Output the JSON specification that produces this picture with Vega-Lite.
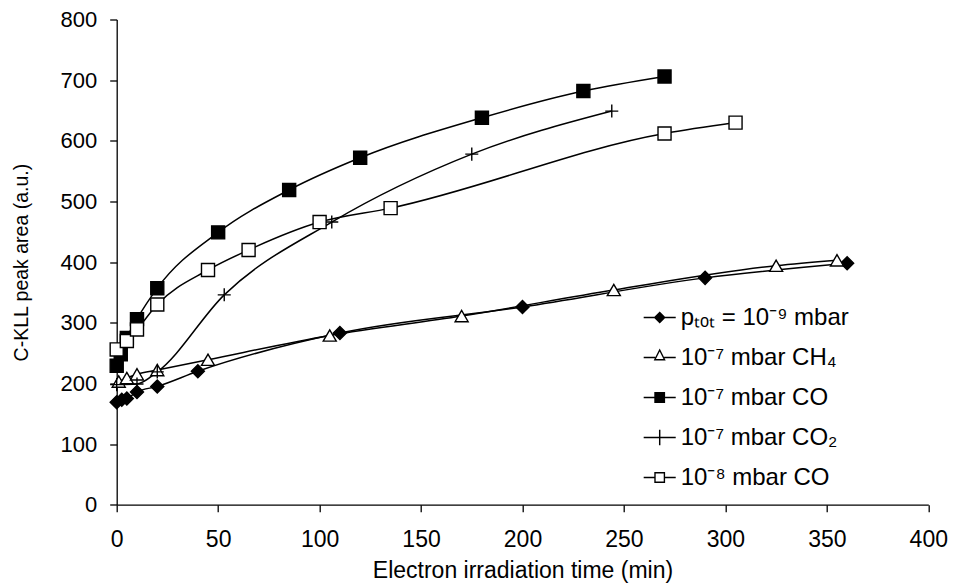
{
  "$schema": "https://vega.github.io/schema/vega-lite/v6.json",
  "autosize": "none",
  "width": 811.6,
  "height": 485.2,
  "padding": {"left": 116.7, "top": 19.5, "right": 25.7, "bottom": 82.3},
  "background": "white",
  "config": {
    "view": {"stroke": null},
    "font": "Liberation Sans",
    "axis": {"labelFont": "Liberation Sans", "titleFont": "Liberation Sans", "titleFontWeight": "normal", "labelColor": "black", "titleColor": "black", "tickColor": "black", "domainColor": "black", "grid": false, "tickSize": 7, "domainWidth": 1.3, "tickWidth": 1.3}
  },
  "data": {"values": [
    {"s": "pₜₒₜ = 10⁻⁹ mbar", "t": 0, "a": 169},
    {"s": "pₜₒₜ = 10⁻⁹ mbar", "t": 2.5, "a": 173},
    {"s": "pₜₒₜ = 10⁻⁹ mbar", "t": 5, "a": 175},
    {"s": "pₜₒₜ = 10⁻⁹ mbar", "t": 10, "a": 186},
    {"s": "pₜₒₜ = 10⁻⁹ mbar", "t": 20, "a": 195},
    {"s": "pₜₒₜ = 10⁻⁹ mbar", "t": 40, "a": 220},
    {"s": "pₜₒₜ = 10⁻⁹ mbar", "t": 110, "a": 283},
    {"s": "pₜₒₜ = 10⁻⁹ mbar", "t": 200, "a": 326},
    {"s": "pₜₒₜ = 10⁻⁹ mbar", "t": 290, "a": 374},
    {"s": "pₜₒₜ = 10⁻⁹ mbar", "t": 360, "a": 398},
    {"s": "10⁻⁷ mbar CH₄", "t": 1, "a": 203},
    {"s": "10⁻⁷ mbar CH₄", "t": 5, "a": 209},
    {"s": "10⁻⁷ mbar CH₄", "t": 10, "a": 215},
    {"s": "10⁻⁷ mbar CH₄", "t": 20, "a": 222},
    {"s": "10⁻⁷ mbar CH₄", "t": 45, "a": 239},
    {"s": "10⁻⁷ mbar CH₄", "t": 105, "a": 279},
    {"s": "10⁻⁷ mbar CH₄", "t": 170, "a": 311},
    {"s": "10⁻⁷ mbar CH₄", "t": 245, "a": 354},
    {"s": "10⁻⁷ mbar CH₄", "t": 325, "a": 394},
    {"s": "10⁻⁷ mbar CH₄", "t": 355, "a": 403},
    {"s": "10⁻⁷ mbar CO", "t": 0, "a": 229},
    {"s": "10⁻⁷ mbar CO", "t": 2, "a": 248},
    {"s": "10⁻⁷ mbar CO", "t": 5, "a": 275},
    {"s": "10⁻⁷ mbar CO", "t": 10, "a": 306},
    {"s": "10⁻⁷ mbar CO", "t": 20, "a": 357},
    {"s": "10⁻⁷ mbar CO", "t": 50, "a": 449},
    {"s": "10⁻⁷ mbar CO", "t": 85, "a": 519},
    {"s": "10⁻⁷ mbar CO", "t": 120, "a": 572},
    {"s": "10⁻⁷ mbar CO", "t": 180, "a": 638},
    {"s": "10⁻⁷ mbar CO", "t": 230, "a": 682},
    {"s": "10⁻⁷ mbar CO", "t": 270, "a": 706},
    {"s": "10⁻⁷ mbar CO₂", "t": 0, "a": 198},
    {"s": "10⁻⁷ mbar CO₂", "t": 10, "a": 199},
    {"s": "10⁻⁷ mbar CO₂", "t": 20, "a": 219},
    {"s": "10⁻⁷ mbar CO₂", "t": 53, "a": 346},
    {"s": "10⁻⁷ mbar CO₂", "t": 106, "a": 466},
    {"s": "10⁻⁷ mbar CO₂", "t": 175, "a": 578},
    {"s": "10⁻⁷ mbar CO₂", "t": 244, "a": 649},
    {"s": "10⁻⁸ mbar CO", "t": 0, "a": 256},
    {"s": "10⁻⁸ mbar CO", "t": 5, "a": 270},
    {"s": "10⁻⁸ mbar CO", "t": 10, "a": 289},
    {"s": "10⁻⁸ mbar CO", "t": 20, "a": 330},
    {"s": "10⁻⁸ mbar CO", "t": 45, "a": 387},
    {"s": "10⁻⁸ mbar CO", "t": 65, "a": 420},
    {"s": "10⁻⁸ mbar CO", "t": 100, "a": 466},
    {"s": "10⁻⁸ mbar CO", "t": 135, "a": 489},
    {"s": "10⁻⁸ mbar CO", "t": 270, "a": 612},
    {"s": "10⁻⁸ mbar CO", "t": 305, "a": 630}
  ]},
  "encoding": {
    "x": {"field": "t", "type": "quantitative", "scale": {"domain": [0, 400], "nice": false}, "axis": {"title": "Electron irradiation time (min)", "values": [0, 50, 100, 150, 200, 250, 300, 350, 400], "labelFontSize": 23, "titleFontSize": 23, "labelPadding": 17, "titlePadding": 8, "labelFlush": false}},
    "y": {"field": "a", "type": "quantitative", "scale": {"domain": [0, 800], "nice": false}, "axis": {"title": "C-KLL peak area (a.u.)", "values": [0, 100, 200, 300, 400, 500, 600, 700, 800], "labelFontSize": 22, "titleFontSize": 19.5, "labelPadding": 13, "titlePadding": 28, "labelFlush": false}}
  },
  "resolve": {"scale": {"shape": "independent", "fill": "independent"}},
  "layer": [
    {
      "mark": {"type": "line", "interpolate": "monotone", "color": "black", "strokeWidth": 1.5},
      "encoding": {"detail": {"field": "s"}}
    },
    {
      "mark": {"type": "point", "filled": true, "stroke": "black", "strokeWidth": 1.4, "opacity": 1, "size": 170},
      "encoding": {
        "shape": {"field": "s", "type": "nominal", "scale": {"domain": ["pₜₒₜ = 10⁻⁹ mbar", "10⁻⁷ mbar CH₄", "10⁻⁷ mbar CO", "10⁻⁷ mbar CO₂", "10⁻⁸ mbar CO"], "range": ["diamond", "triangle-up", "square", "M-1,0H1M0,-1V1", "square"]}, "legend": null},
        "fill": {"field": "s", "type": "nominal", "scale": {"domain": ["pₜₒₜ = 10⁻⁹ mbar", "10⁻⁷ mbar CH₄", "10⁻⁷ mbar CO", "10⁻⁷ mbar CO₂", "10⁻⁸ mbar CO"], "range": ["black", "white", "black", "white", "white"]}, "legend": null}
      }
    },
    {
      "transform": [{"filter": "datum.t < 0"}],
      "mark": {"type": "point", "filled": true, "color": "black", "opacity": 1, "size": 144},
      "encoding": {
        "shape": {"field": "s", "type": "nominal", "scale": {"domain": ["pₜₒₜ = 10⁻⁹ mbar", "10⁻⁷ mbar CH₄", "10⁻⁷ mbar CO", "10⁻⁷ mbar CO₂", "10⁻⁸ mbar CO"], "range": [
          "M-2.67,-0.12H2.67V0.12H-2.67ZM0,-1L1,0L0,1L-1,0Z",
          "M-2.67,-0.12H-0.75V0.12H-2.67ZM0.75,-0.12H2.67V0.12H0.75ZM0,-1.5L1,0.5H-1ZM0,-0.986L-0.628,0.27H0.628Z",
          "M-2.67,-0.12H2.67V0.12H-2.67ZM-0.9,-0.9H0.9V0.9H-0.9Z",
          "M-2.67,-0.12H2.67V0.12H-2.67ZM-0.12,-1.3H0.12V1.3H-0.12Z",
          "M-2.67,-0.12H-0.9V0.12H-2.67ZM0.9,-0.12H2.67V0.12H0.9ZM-0.9,-0.9H0.9V0.9H-0.9ZM-0.67,-0.67V0.67H0.67V-0.67Z"
        ]}, "legend": {"title": null, "orient": "none", "legendX": 531, "legendY": 286, "labelFont": "Liberation Sans", "labelFontSize": 24, "labelColor": "black", "labelLimit": 400, "symbolSize": 144, "symbolFillColor": "black", "symbolStrokeWidth": 0, "rowPadding": 16, "labelOffset": 9}}
      }
    }
  ]
}
